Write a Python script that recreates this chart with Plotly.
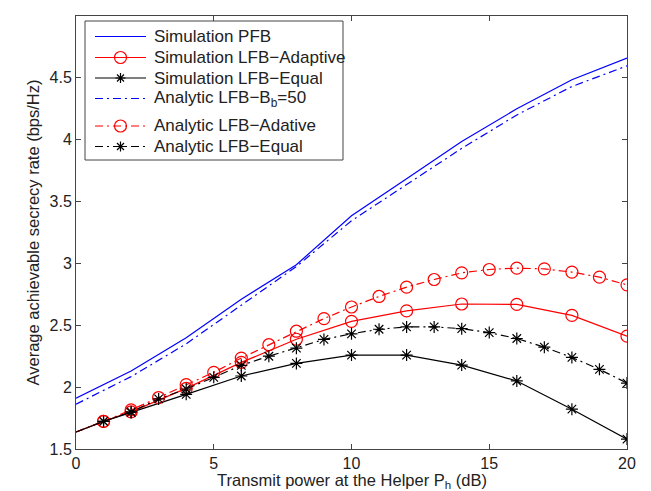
import plotly.graph_objects as go

# ---- data ----
x_pfb = [0, 2, 4, 6, 8, 10, 12, 14, 16, 18, 20]
sim_pfb = [1.91, 2.13, 2.40, 2.71, 2.99, 3.385, 3.685, 3.985, 4.25, 4.485, 4.66]
ana_bb50 = [1.862, 2.085, 2.35, 2.66, 2.975, 3.345, 3.635, 3.93, 4.20, 4.43, 4.597]

x_sim = [0, 1, 2, 4, 6, 8, 10, 12, 14, 16, 18, 20]
sim_adaptive = [1.637, 1.723, 1.80, 1.99, 2.20, 2.387, 2.532, 2.616, 2.672, 2.669, 2.580, 2.412]
sim_equal = [1.637, 1.723, 1.795, 1.942, 2.09, 2.192, 2.259, 2.259, 2.178, 2.050, 1.822, 1.580]

x_ana = list(range(0, 21))
ana_adaptive = [1.637, 1.723, 1.816, 1.916, 2.02, 2.12, 2.235, 2.343, 2.452, 2.554, 2.648,
                2.733, 2.809, 2.870, 2.924, 2.951, 2.962, 2.956, 2.930, 2.889, 2.827]
ana_equal = [1.637, 1.723, 1.80, 1.905, 1.985, 2.079, 2.176, 2.250, 2.315, 2.386, 2.431,
             2.468, 2.487, 2.487, 2.473, 2.441, 2.393, 2.323, 2.240, 2.144, 2.033]

legend_labels = ["Simulation PFB", "Simulation LFB−Adaptive", "Simulation LFB−Equal",
                 "Analytic LFB−B<sub>b</sub>=50", "Analytic LFB−Adative", "Analytic LFB−Equal"]

x_ticks = [0, 5, 10, 15, 20]
y_ticks = [1.5, 2, 2.5, 3, 3.5, 4, 4.5, 5]

x_title = "Transmit power at the Helper P<sub>h</sub> (dB)"
y_title = "Average achievable secrecy rate (bps/Hz)"

BLUE, RED, BLACK = "#0000ff", "#ff0000", "#000000"
DASHDOT = "8px,4px,2px,4px"
FONT = "Liberation Sans, Arial, Helvetica, sans-serif"
TXT = "#222222"
AXC = "#444444"

W, H = 651, 491
ML, MR, MT, MB = 68, 32, 8, 50
PW, PH = W - ML - MR, H - MT - MB


def px(xp):  # pixel -> paper x
    return (xp - ML) / PW


def py(yp):  # pixel -> paper y
    return (H - MB - yp) / PH


fig = go.Figure()

styles = [
    (x_pfb, sim_pfb, BLUE, "solid", None),
    (x_sim, sim_adaptive, RED, "solid", "circle-open"),
    (x_sim, sim_equal, BLACK, "solid", "asterisk-open"),
    (x_pfb, ana_bb50, BLUE, DASHDOT, None),
    (x_ana, ana_adaptive, RED, DASHDOT, "circle-open"),
    (x_ana, ana_equal, BLACK, DASHDOT, "asterisk-open"),
]

for (x, y, color, dash, symbol), name in zip(styles, legend_labels):
    if symbol is None:
        fig.add_trace(go.Scatter(x=x, y=y, name=name, mode="lines", showlegend=False,
                                 line=dict(color=color, width=1.2, dash=dash)))
        continue
    # lead segment from x=0 without marker
    fig.add_trace(go.Scatter(x=x[0:2], y=y[0:2], mode="lines", showlegend=False,
                             hoverinfo="skip",
                             line=dict(color=color, width=1.2, dash=dash)))
    fig.add_trace(go.Scatter(x=x[1:], y=y[1:], name=name, mode="lines+markers",
                             showlegend=False,
                             line=dict(color=color, width=1.2, dash=dash),
                             marker=dict(symbol=symbol,
                                         size=12 if symbol == "circle-open" else 10,
                                         color=color, line=dict(color=color, width=1.2))))

# ---- legend box drawn as layout decoration (MATLAB-like compact legend) ----
shapes = [dict(type="rect", xref="paper", yref="paper", layer="above",
               x0=px(77), x1=px(335), y0=py(152), y1=py(13),
               line=dict(color=AXC, width=1), fillcolor="white")]
annotations = []
row_y = [28.5, 49.5, 70, 90.5, 118, 138.5]
for (x, y, color, dash, symbol), label, ry in zip(styles, legend_labels, row_y):
    shapes.append(dict(type="line", xref="paper", yref="paper", layer="above",
                       x0=px(87), x1=px(138), y0=py(ry), y1=py(ry),
                       line=dict(color=color, width=1.2, dash=dash)))
    if symbol == "circle-open":
        shapes.append(dict(type="circle", xref="paper", yref="paper", layer="above",
                           xsizemode="pixel", ysizemode="pixel",
                           xanchor=px(112.5), yanchor=py(ry),
                           x0=-6, x1=6, y0=-6, y1=6,
                           line=dict(color=color, width=1.2)))
    elif symbol == "asterisk-open":
        shapes.append(dict(type="path", xref="paper", yref="paper", layer="above",
                           xsizemode="pixel", ysizemode="pixel",
                           xanchor=px(112.5), yanchor=py(ry),
                           path="M-5,0L5,0M0,-5L0,5M-3.5,-3.5L3.5,3.5M-3.5,3.5L3.5,-3.5",
                           line=dict(color=color, width=1.2)))
    annotations.append(dict(xref="paper", yref="paper", x=px(144), y=py(ry),
                            xanchor="left", yanchor="middle", showarrow=False,
                            text=label, font=dict(family=FONT, size=17, color=TXT)))

# axis titles placed like MATLAB's
annotations.append(dict(xref="paper", yref="paper", x=px(24), y=0.5,
                        xanchor="center", yanchor="middle", showarrow=False, textangle=-90,
                        text=y_title, font=dict(family=FONT, size=16.5, color=TXT)))
annotations.append(dict(xref="paper", yref="paper", x=0.5, y=py(473),
                        xanchor="center", yanchor="middle", showarrow=False,
                        text=x_title, font=dict(family=FONT, size=16.5, color=TXT)))

axis_common = dict(showline=True, linecolor=AXC, linewidth=1, mirror="ticks",
                   ticks="inside", ticklen=5, tickcolor=AXC, showgrid=False,
                   zeroline=False, tickfont=dict(family=FONT, size=16, color=TXT))

fig.update_layout(
    width=W, height=H,
    margin=dict(l=ML, r=MR, t=MT, b=MB),
    paper_bgcolor="white", plot_bgcolor="white",
    font=dict(family=FONT, size=16, color=TXT),
    showlegend=False,
    shapes=shapes,
    annotations=annotations,
    xaxis=dict(range=[0, 20], tickvals=x_ticks, **axis_common),
    yaxis=dict(range=[1.5, 5], tickvals=y_ticks, **axis_common),
)

fig.write_html("out.html")
